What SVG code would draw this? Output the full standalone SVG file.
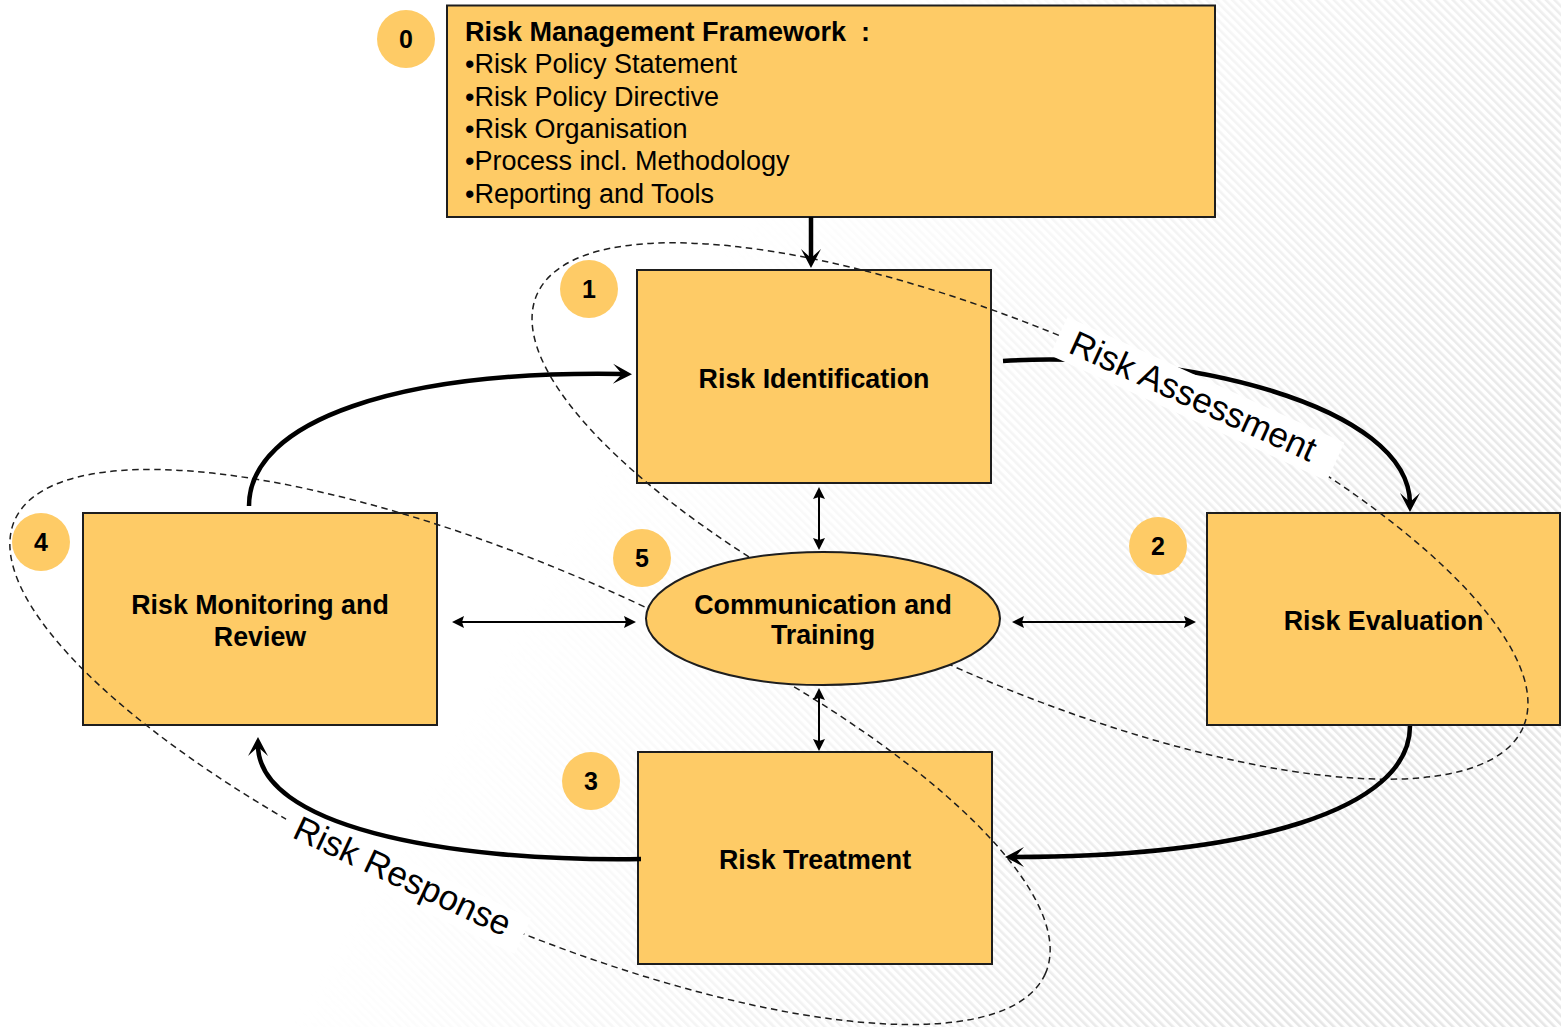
<svg xmlns="http://www.w3.org/2000/svg" width="1561" height="1027" viewBox="0 0 1561 1027">
  <style>
    text { font-family: "Liberation Sans", Arial, sans-serif; fill: #000; }
    .box { fill: #FECB66; stroke: #1e1e1e; stroke-width: 2; }
    .badge { fill: #FECB66; }
    .num { font-size: 25px; font-weight: bold; text-anchor: middle; }
    .name { font-size: 26.8px; font-weight: bold; text-anchor: middle; }
    .list { font-size: 27px; }
    .phase { fill: none; stroke: #1e1e1e; stroke-width: 1.5; stroke-dasharray: 6.5 4.5; }
    .flow { fill: none; stroke: #000; stroke-width: 4.5; marker-end: url(#bigHead); }
    .link { fill: none; stroke: #000; stroke-width: 2; marker-start: url(#smallHead); marker-end: url(#smallHead); }
    .lbl { font-size: 35px; }
  </style>
  <defs>
    <pattern id="hatch" width="6" height="6" patternUnits="userSpaceOnUse" patternTransform="rotate(-45)">
      <rect x="0" y="0" width="2.6" height="6" fill="#e6e6e6"/>
    </pattern>
    <linearGradient id="fadeGrad" gradientUnits="userSpaceOnUse" x1="650" y1="380" x2="1400" y2="800">
      <stop offset="0" stop-color="#000"/>
      <stop offset="1" stop-color="#fff"/>
    </linearGradient>
    <mask id="fade" maskUnits="userSpaceOnUse" x="0" y="0" width="1561" height="1027">
      <rect width="1561" height="1027" fill="url(#fadeGrad)"/>
    </mask>
    <marker id="bigHead" markerUnits="userSpaceOnUse" viewBox="-20 -20 40 40" markerWidth="40" markerHeight="40" refX="0" refY="0" orient="auto" overflow="visible">
      <path d="M8,0 L-11,-10 L-2,0 L-11,10 Z" fill="#000"/>
    </marker>
    <marker id="smallHead" markerUnits="userSpaceOnUse" viewBox="-10 -10 20 20" markerWidth="20" markerHeight="20" refX="0" refY="0" orient="auto-start-reverse" overflow="visible">
      <path d="M4,0 L-8,-6 L-6,0 L-8,6 Z" fill="#000"/>
    </marker>
  </defs>

  <!-- background -->
  <rect width="1561" height="1027" fill="#fff"/>
  <rect width="1561" height="1027" fill="url(#hatch)" mask="url(#fade)"/>

  <!-- process boxes -->
  <g id="framework">
    <rect class="box" x="447" y="5.5" width="768" height="211.5"/>
    <text class="list" x="465" y="41" font-weight="bold">Risk Management Framework<tspan x="861">:</tspan></text>
    <text class="list" x="465" y="73">•Risk Policy Statement</text>
    <text class="list" x="465" y="105.5">•Risk Policy Directive</text>
    <text class="list" x="465" y="138">•Risk Organisation</text>
    <text class="list" x="465" y="170">•Process incl. Methodology</text>
    <text class="list" x="465" y="202.5">•Reporting and Tools</text>
  </g>
  <g id="identification">
    <rect class="box" x="637" y="270" width="354" height="213"/>
    <text class="name" x="814" y="387.5">Risk Identification</text>
  </g>
  <g id="evaluation">
    <rect class="box" x="1207" y="513" width="353" height="212"/>
    <text class="name" x="1383.5" y="629.5">Risk Evaluation</text>
  </g>
  <g id="treatment">
    <rect class="box" x="638" y="752" width="354" height="212"/>
    <text class="name" x="815" y="868.5">Risk Treatment</text>
  </g>
  <g id="monitoring">
    <rect class="box" x="83" y="513" width="354" height="212"/>
    <text class="name" x="260" y="613.5">Risk Monitoring and</text>
    <text class="name" x="260" y="645.5">Review</text>
  </g>

  <!-- phase groupings -->
  <g id="phases">
    <ellipse class="phase" cx="0" cy="0" rx="538.5" ry="173" transform="translate(1030,511) rotate(23.7)"/>
    <ellipse class="phase" cx="0" cy="0" rx="563" ry="175" transform="translate(530,747) rotate(23.74)"/>
  </g>

  <!-- connectors -->
  <g id="connectors">
    <path class="flow" d="M811,217 L811,260"/>
    <path class="flow" d="M249,506 C249,420 400,370 624,374"/>
    <path class="flow" d="M1003,361 C1180,350 1410,405 1410,504"/>
    <path class="flow" d="M1410,726 C1410,810 1250,857 1013,857"/>
    <path class="flow" d="M641,859 C440,862 258,825 258,745"/>
    <path class="link" d="M819,491 L819,546"/>
    <path class="link" d="M819,692 L819,747"/>
    <path class="link" d="M456,622 L632,622"/>
    <path class="link" d="M1016,622 L1192,622"/>
  </g>

  <!-- phase labels -->
  <g id="label-assessment" transform="translate(1067,352) rotate(24.4)">
    <rect x="-14" y="-32" width="304" height="42" fill="#fff"/>
    <text class="lbl" x="0" y="0">Risk Assessment</text>
  </g>
  <g id="label-response" transform="translate(291,837) rotate(25.1)">
    <rect x="-12" y="-28" width="264" height="39" fill="#fff"/>
    <text class="lbl" x="0" y="0">Risk Response</text>
  </g>

  <!-- central node -->
  <g id="communication">
    <ellipse cx="823" cy="618.5" rx="177" ry="66.5" fill="#FECB66" stroke="#1e1e1e" stroke-width="2"/>
    <text class="name" x="823" y="613.5">Communication and</text>
    <text class="name" x="823" y="643.5">Training</text>
  </g>

  <!-- step badges -->
  <g id="badge-0"><circle class="badge" cx="406" cy="39" r="29"/><text class="num" x="406" y="48">0</text></g>
  <g id="badge-1"><circle class="badge" cx="589" cy="289" r="29"/><text class="num" x="589" y="298">1</text></g>
  <g id="badge-2"><circle class="badge" cx="1158" cy="546" r="29"/><text class="num" x="1158" y="555">2</text></g>
  <g id="badge-3"><circle class="badge" cx="591" cy="781" r="29"/><text class="num" x="591" y="790">3</text></g>
  <g id="badge-4"><circle class="badge" cx="41" cy="542" r="29"/><text class="num" x="41" y="551">4</text></g>
  <g id="badge-5"><circle class="badge" cx="642" cy="558" r="29"/><text class="num" x="642" y="567">5</text></g>
</svg>
